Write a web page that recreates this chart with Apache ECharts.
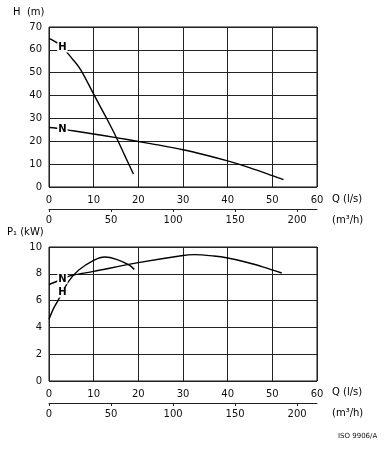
<!DOCTYPE html>
<html><head><meta charset="utf-8">
<script src="https://cdn.jsdelivr.net/npm/echarts@6/dist/echarts.min.js"></script>
<style>html,body{margin:0;padding:0;background:#fff}#c{width:388px;height:450px}</style>
</head><body><div id="c"></div>
<script>
// Flow in l/s and the curves
const qTopH = [0, 1, 2, 3, 4, 5, 7, 10, 12.9, 15, 17, 18.9];
const headH = [65, 64, 62.8, 61, 58.9, 56.6, 51.6, 40.6, 30, 22, 13.6, 5.7];
const qTopN = [0, 3, 5, 10, 15, 20, 25, 30, 35, 40, 45, 50, 52.5];
const headN = [26, 25.4, 24.7, 23.2, 21.6, 19.9, 18.2, 16.3, 14, 11.4, 8.4, 5, 3.2];
const qBotH = [0, 1, 2, 3, 4.3, 6.6, 10, 12.5, 15.1, 17.8, 19.1];
const powerH = [4.6, 5.4, 6.0, 6.6, 7.4, 8.26, 9.0, 9.25, 9.08, 8.68, 8.33];
const qBotN = [0, 3, 4.7, 10, 20, 30, 32.4, 36.9, 40, 44.2, 48, 52.1];
const powerN = [7.2, 7.6, 7.84, 8.18, 8.83, 9.37, 9.43, 9.33, 9.18, 8.86, 8.5, 8.06];
const labelAtQ = 3;
const qMax = 60;          // l/s
const m3hMax = qMax * 3.6; // m3/h

const FONT = 'DejaVu Sans';
const txt = {fontFamily: FONT, fontSize: 10, color: '#111'};

function pts(xs, ys, name) {
  return xs.map((x, i) => {
    const item = {value: [x, ys[i]]};
    if (x === labelAtQ) {
      item.label = {show: true, formatter: name, position: 'inside', fontFamily: FONT,
        fontSize: 10, fontWeight: 'bold', color: '#000', backgroundColor: '#fff', padding: [0, 1]};
    }
    return item;
  });
}
function curve(xs, ys, name, idx) {
  return {type: 'line', xAxisIndex: idx * 2, yAxisIndex: idx, smooth: 0.35,
    symbol: 'circle', symbolSize: 0, showSymbol: true, showAllSymbol: true,
    lineStyle: {color: '#000', width: 1.4}, itemStyle: {color: '#000'},
    label: {show: false}, emphasis: {disabled: true}, animation: false,
    data: pts(xs, ys, name)};
}
const gridLine = {show: true, lineStyle: {color: '#222', width: 1}};
function qAxis(g) {
  return {type: 'value', gridIndex: g, min: 0, max: qMax, interval: 10,
    axisLine: {show: false}, axisTick: {show: false}, splitLine: gridLine,
    axisLabel: Object.assign({margin: 8}, txt)};
}
function m3Axis(g) {
  return {type: 'value', gridIndex: g, min: 0, max: m3hMax, interval: 50, position: 'bottom', offset: 22,
    axisLine: {show: true, lineStyle: {color: '#222', width: 1}},
    axisTick: {show: true, length: 3, lineStyle: {color: '#222'}},
    splitLine: {show: false}, axisLabel: Object.assign({margin: 6, showMaxLabel: false}, txt)};
}
const chart = echarts.init(document.getElementById('c'), null, {renderer: 'canvas'});
chart.setOption({
  animation: false,
  backgroundColor: '#fff',
  grid: [
    {left: 49, top: 27, width: 268, height: 160, show: true, borderColor: '#111', borderWidth: 1, backgroundColor: 'transparent'},
    {left: 49, top: 247, width: 268, height: 134, show: true, borderColor: '#111', borderWidth: 1, backgroundColor: 'transparent'}
  ],
  xAxis: [qAxis(0), m3Axis(0), qAxis(1), m3Axis(1)],
  yAxis: [
    {type: 'value', gridIndex: 0, min: 0, max: 70, interval: 10, axisLine: {show: false}, axisTick: {show: false},
      splitLine: gridLine, axisLabel: Object.assign({margin: 7}, txt)},
    {type: 'value', gridIndex: 1, min: 0, max: 10, interval: 2, axisLine: {show: false}, axisTick: {show: false},
      splitLine: gridLine, axisLabel: Object.assign({margin: 7}, txt)}
  ],
  series: [
    curve(qTopH, headH, 'H', 0),
    curve(qTopN, headN, 'N', 0),
    curve(qBotH, powerH, 'H', 1),
    curve(qBotN, powerN, 'N', 1)
  ],
  graphic: [
    {type: 'text', left: 13, top: 7, style: Object.assign({text: 'H  (m)'}, txt)},
    {type: 'text', left: 332, top: 194, style: Object.assign({text: 'Q (l/s)'}, txt)},
    {type: 'text', left: 332, top: 215, style: Object.assign({text: '(m³/h)'}, txt)},
    {type: 'text', left: 7, top: 227, style: Object.assign({text: 'P₁ (kW)'}, txt)},
    {type: 'text', left: 332, top: 387, style: Object.assign({text: 'Q (l/s)'}, txt)},
    {type: 'text', left: 332, top: 408, style: Object.assign({text: '(m³/h)'}, txt)},
    {type: 'text', left: 338, top: 433, style: {text: 'ISO 9906/A', fontFamily: FONT, fontSize: 7, fill: '#111'}}
  ]
});
</script></body></html>
